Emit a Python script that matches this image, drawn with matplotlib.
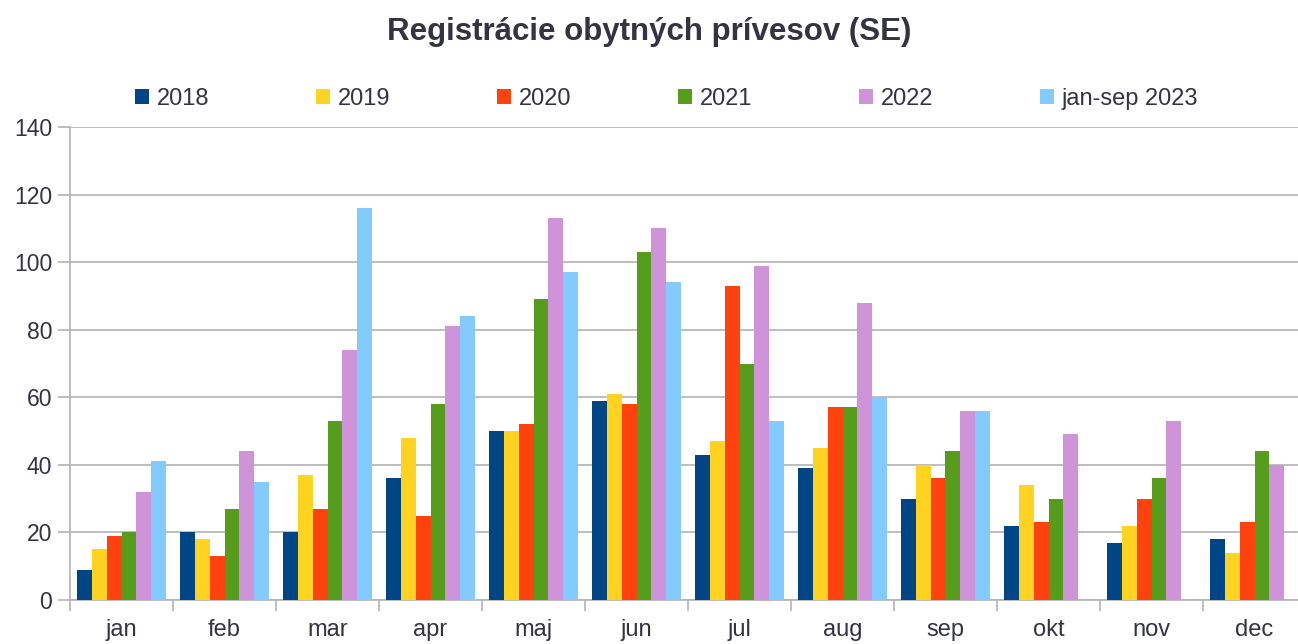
import matplotlib

matplotlib.use("Agg")
import matplotlib.pyplot as plt
import numpy as np

plt.rcParams["font.family"] = ["Liberation Sans", "DejaVu Sans"]

months = ["jan", "feb", "mar", "apr", "maj", "jun", "jul", "aug", "sep", "okt", "nov", "dec"]
series_names = ["2018", "2019", "2020", "2021", "2022", "jan-sep 2023"]
colors = ["#004586", "#ffd320", "#ff420e", "#579d1c", "#cf93d9", "#83caff"]

y2018 = [9, 20, 20, 36, 50, 59, 43, 39, 30, 22, 17, 18]
y2019 = [15, 18, 37, 48, 50, 61, 47, 45, 40, 34, 22, 14]
y2020 = [19, 13, 27, 25, 52, 58, 93, 57, 36, 23, 30, 23]
y2021 = [20, 27, 53, 58, 89, 103, 70, 57, 44, 30, 36, 44]
y2022 = [32, 44, 74, 81, 113, 110, 99, 88, 56, 49, 53, 40]
y2023 = [41, 35, 116, 84, 97, 94, 53, 60, 56, np.nan, np.nan, np.nan]

data = [y2018, y2019, y2020, y2021, y2022, y2023]
text_color = "#333344"
grid_color = "#b3b3b3"

fig = plt.figure(figsize=(12.98, 6.44), dpi=100)
ax = fig.add_axes([70 / 1298, 44 / 644, 1236 / 1298, 473 / 644])

x = np.arange(len(months))
width = 0.144
offsets = (np.arange(len(data)) - (len(data) - 1) / 2) * width
for vals, name, col, off in zip(data, series_names, colors, offsets):
    ax.bar(x + off, vals, width=width, color=col, label=name, zorder=3)

ax.set_xlim(-0.5, len(months) - 0.5)
ax.set_ylim(0, 140)
ax.set_yticks(range(0, 141, 20))
ax.set_xticks(x)
ax.set_xticklabels(months)
ax.set_xticks(np.arange(-0.5, len(months), 1), minor=True)
ax.tick_params(axis="x", which="major", length=0, pad=14, labelsize=17, labelcolor=text_color)
ax.tick_params(axis="x", which="minor", length=8, color=grid_color, width=1.2)
ax.tick_params(axis="y", length=8.6, color=grid_color, width=1.2, pad=4.3, labelsize=16.5,
               labelcolor=text_color)

ax.grid(axis="y", color=grid_color, linewidth=1.2, zorder=0)
ax.set_axisbelow(True)
for side in ["top", "right"]:
    ax.spines[side].set_visible(False)
for side in ["left", "bottom"]:
    ax.spines[side].set_color(grid_color)
    ax.spines[side].set_linewidth(1.2)

fig.text(0.5, 1 - 32 / 644, "Registrácie obytných prívesov (SE)", ha="center", va="center",
         fontsize=22.5, fontweight="bold", color=text_color)

leg = fig.legend(loc="center left", bbox_to_anchor=(135 / 1298, 1 - 99 / 644), ncol=6,
                 frameon=False, fontsize=17, handlelength=0.6, handleheight=0.6,
                 handletextpad=0.34, columnspacing=4.5, borderaxespad=0, borderpad=0)
for t in leg.get_texts():
    t.set_color(text_color)

fig.savefig("out.png", dpi=100)
